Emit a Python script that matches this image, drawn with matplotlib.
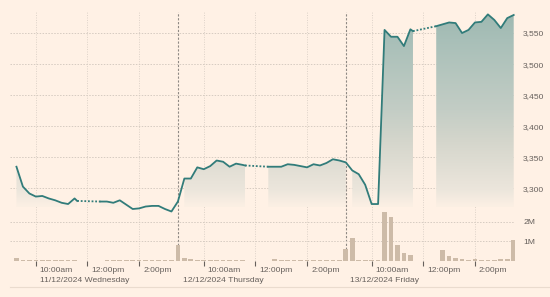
import numpy as np
import matplotlib
matplotlib.use("Agg")
import matplotlib.pyplot as plt
from matplotlib.colors import LinearSegmentedColormap
from matplotlib.lines import Line2D
from matplotlib.transforms import ScaledTranslation, blended_transform_factory

plt.rcParams['font.family'] = ['Liberation Sans', 'DejaVu Sans']

# ---- data ----
day_labels = ['11/12/2024 Wednesday', '12/12/2024 Thursday', '13/12/2024 Friday']

# clock hours of the 15 minute points, morning and afternoon session
am_hours = [9.25, 9.5, 9.75, 10.0, 10.25, 10.5, 10.75, 11.0, 11.25, 11.5, 11.6]
pm_hours = [12.5, 12.75, 13.0, 13.25, 13.5, 13.75, 14.0, 14.25, 14.5, 14.75, 15.0, 15.25, 15.5]
vol_am_hours = [9.25, 9.5, 9.75, 10.0, 10.25, 10.5, 10.75, 11.0, 11.25, 11.5]

d1_am = [3335, 3303, 3292, 3287, 3288, 3284, 3281, 3277, 3275, 3284, 3280]
d1_pm = [3279, 3279, 3277, 3281, 3274, 3267, 3268, 3271, 3272, 3272, 3267, 3263, 3279]
d2_am = [3316, 3316, 3334, 3331, 3336, 3345, 3343, 3335, 3340, 3338, 3337]
d2_pm = [3335, 3335, 3335, 3339, 3338, 3336, 3334, 3339, 3337, 3341, 3347, 3345, 3342]
d3_am = [3329, 3323, 3306, 3275, 3275, 3555, 3544, 3544, 3529, 3556, 3553]
d3_pm = [3561, 3564, 3567, 3566, 3550, 3555, 3567, 3568, 3580, 3571, 3558, 3574, 3579]

# volume, millions
v1_am = [0.15, 0.04, 0.04, 0.04, 0.04, 0.04, 0.04, 0.04, 0.04, 0.04]
v1_pm = [0, 0.04, 0.04, 0.04, 0.04, 0.04, 0.04, 0.04, 0.04, 0.04, 0.04, 0.04, 0.8]
v2_am = [0.16, 0.1, 0.04, 0.04, 0.04, 0.04, 0.04, 0.04, 0.04, 0.04]
v2_pm = [0, 0.08, 0.04, 0.04, 0.04, 0.04, 0.04, 0.04, 0.04, 0.04, 0.04, 0.03, 0.63]
v3_am = [1.15, 0.03, 0.03, 0.03, 0.03, 2.5, 2.25, 0.79, 0.4, 0.31]
v3_pm = [0, 0.58, 0.26, 0.17, 0.1, 0.04, 0.1, 0.04, 0.04, 0.05, 0.1, 0.1, 1.07]

price_ticks = [3300, 3350, 3400, 3450, 3500, 3550]
vol_ticks = [1, 2]
time_ticks = [10, 12, 14]
time_tick_labels = ['10:00am', '12:00pm', '2:00pm']

BG = '#fff1e5'
LINE = '#317c7a'
BAR = '#cdbba8'
TXT = '#66605c'
FS = 6.1
DAY_LEN = 6.5


def xpos(day, hours):
    """hours since 9:00 on a continuous axis, nights removed"""
    return day * DAY_LEN + np.asarray(hours, dtype=float) - 9


fig = plt.figure(figsize=(5.5, 2.97), dpi=100, facecolor=BG)
ax = fig.add_axes([10 / 550, 36 / 297, 505 / 550, 249 / 297])
ax.set_facecolor(BG)
ax2 = ax.twinx()

am = [d1_am, d2_am, d3_am]
pm = [d1_pm, d2_pm, d3_pm]
vam = [v1_am, v2_am, v3_am]
vpm = [v1_pm, v2_pm, v3_pm]

# gradient under the line, one piece per session
fade = LinearSegmentedColormap.from_list('fade', [
    (0, '#fcf0e4'), (0.086, '#ece6dc'), (0.33, '#d5d6cc'),
    (0.495, '#c3cdc5'), (0.854, '#a8bfb8'), (1, '#9db8b0')])
base, top = 3270, 3585
grad = np.linspace(0, 1, 256).reshape(-1, 1)
for d in range(3):
    for hrs, vals in [(am_hours, am[d]), (pm_hours, pm[d])]:
        xs = xpos(d, hrs)
        coll = ax.fill_between(xs, vals, base, facecolor='none', edgecolor='none')
        im = ax.imshow(grad, cmap=fade, extent=[xs[0], xs[-1], base, top],
                       aspect='auto', origin='lower', zorder=1, interpolation='bilinear')
        im.set_clip_path(coll.get_paths()[0], transform=ax.transData)

# price line: solid through sessions and overnight, dotted over lunch
solid = [
    (xpos(0, am_hours), d1_am),
    (np.r_[xpos(0, pm_hours), xpos(1, am_hours)], d1_pm + d2_am),
    (np.r_[xpos(1, pm_hours), xpos(2, am_hours)], d2_pm + d3_am),
    (xpos(2, pm_hours), d3_pm),
]
for xs, vals in solid:
    ax.plot(xs, vals, color=LINE, lw=1.3, zorder=4, solid_joinstyle='round')
for d in range(3):
    ax.plot([xpos(d, am_hours[-1]), xpos(d, pm_hours[0])], [am[d][-1], pm[d][0]],
            color=LINE, lw=1.3, ls=(0, (1, 1)), zorder=4)

# volume bars
for d in range(3):
    ax2.bar(xpos(d, vol_am_hours), vam[d], width=0.18, color=BAR, zorder=2)
    ax2.bar(xpos(d, pm_hours), vpm[d], width=0.18, color=BAR, zorder=2)

# day separators
for d in (1, 2):
    ax.axvline(d * DAY_LEN, color='#8f8984', lw=0.8, ls=(0, (2, 1.5)), zorder=3)

# axes, ticks, grid
ax.set_xlim(0, 19.55)
ax.set_ylim(3183.4, 3583.8)
ax2.set_ylim(0, 12.64)

for a in (ax, ax2):
    for s in a.spines.values():
        s.set_visible(False)

ax.yaxis.tick_right()
ax.set_yticks(price_ticks, [f'{v:,}' for v in price_ticks])
ax2.set_yticks(vol_ticks, [f'{v}M' for v in vol_ticks])
for a in (ax, ax2):
    a.tick_params(axis='y', length=0, pad=5.8, labelsize=FS, labelcolor=TXT)
    a.yaxis.grid(True, color='#d6cbc1', lw=0.7, ls=(0, (1.5, 1.5)))
ax.set_axisbelow(True)

xt = [xpos(d, h) for d in range(3) for h in time_ticks]
ax.set_xticks(xt, time_tick_labels * 3)
ax.tick_params(axis='x', length=3.5, width=0.8, color=TXT, pad=0.5,
               labelsize=FS, labelcolor=TXT)
ax.xaxis.grid(True, color='#ddd2c8', lw=0.7, ls=(0, (1, 1.5)))
shift = ScaledTranslation(4 / 100, 0, fig.dpi_scale_trans)
for lab in ax.get_xticklabels():
    lab.set_ha('left')
    lab.set_transform(lab.get_transform() + shift)

# date labels under the time labels
date_label_x = [1.16, 6.69, 13.15]
tr = blended_transform_factory(ax.transData, fig.transFigure)
for x, lab in zip(date_label_x, day_labels):
    fig.text(x, 16 / 297, lab, transform=tr, fontsize=FS, color=TXT,
             ha='left', va='center')

# thin rule at the bottom
fig.add_artist(Line2D([10 / 550, 1], [10 / 297, 10 / 297], color='#eadbce', lw=0.8))

fig.savefig('out.png', dpi=100, facecolor=BG)
